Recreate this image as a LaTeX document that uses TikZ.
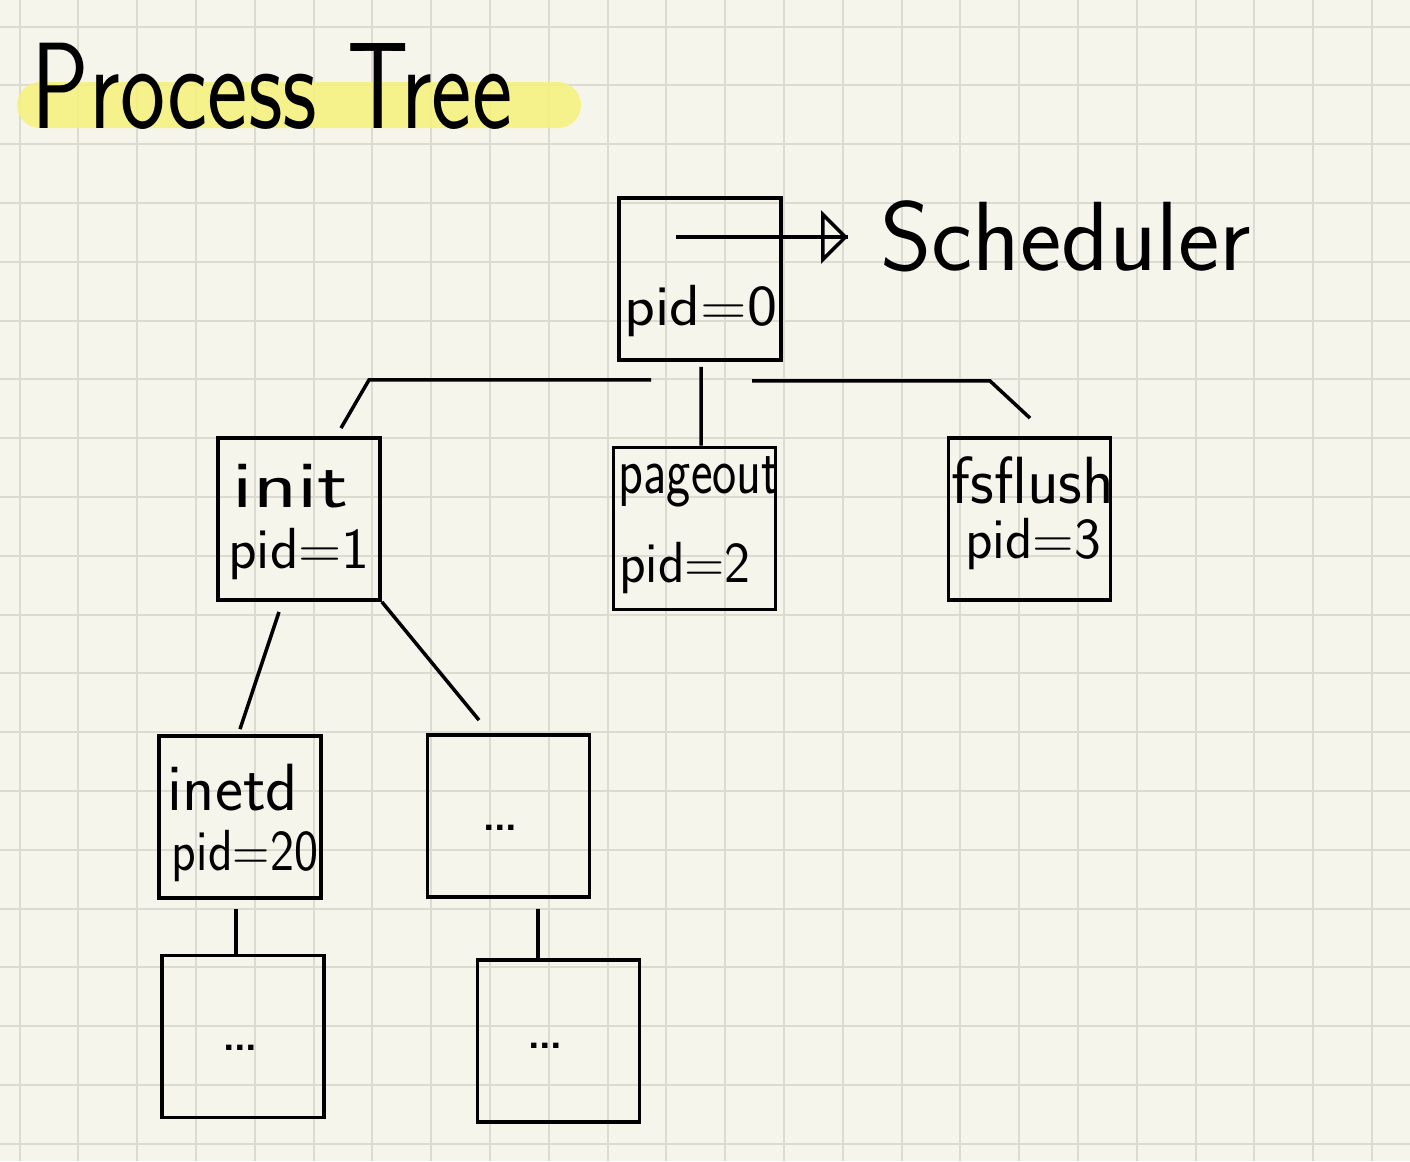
\documentclass[tikz,border=0pt]{standalone}
\usepackage{fontspec}
\usepackage{graphicx}
\usetikzlibrary{arrows.meta,calc}
\definecolor{paper}{HTML}{F6F5EC}
\definecolor{gridc}{HTML}{DCDBD1}
\definecolor{marker}{HTML}{F5F27C}
\newcommand{\nar}[2][0.7]{\scalebox{#1}[1]{#2}}
\tikzset{
  proc/.style={rectangle,draw=black,line width=2.2pt,minimum width=3.24cm,
    minimum height=3.24cm,inner sep=0pt},
  hw/.style={font=\sffamily\fontsize{33}{36}\selectfont,inner sep=0pt,anchor=base},
  hwl/.style={hw,font=\sffamily\fontsize{38}{42}\selectfont},
  conn/.style={draw=black,line width=2pt},
  gridln/.style={draw=gridc,line width=1.1pt},
}

\begin{document}
\begin{tikzpicture}[x=0.02cm,y=-0.02cm]
  \useasboundingbox (0,0) rectangle (1410,1161);
  \fill[paper] (0,0) rectangle (1410,1161);
  \foreach \i in {0,...,23} \draw[gridln] (19.6+58.8*\i,0) -- ++(0,1161);
  \foreach \j in {0,...,19} \draw[gridln] (0,26.6+58.8*\j) -- ++(1410,0);

  % title with highlighter
  \fill[marker,fill opacity=0.85,rounded corners=0.46cm] (17,82) rectangle (581,128);
  \node[hw,font=\sffamily\fontsize{70}{76}\selectfont] (title) at (272,128) {\nar[0.78]{Process Tree}};

  % processes
  \node[proc] (root) at (700,279) {};
  \node[proc] (init) at (299,519) {};
  \node[proc] (pgout) at (694.5,528.5) {};
  \node[proc] (fsfl) at (1029.5,519) {};
  \node[proc] (inetd) at (240,817) {};
  \node[proc] (more) at (508.5,816) {};
  \node[proc] (leafa) at (243,1036.5) {};
  \node[proc] (leafb) at (558.5,1041) {};

  \node[hw] (root-pid) at ($(root.center)+(1,46)$) {\nar[1.1]{pid=0}};
  \node[hwl] (init-name) at ($(init.center)+(-8,-12)$) {\nar[1.37]{init}};
  \node[hw] (init-pid) at ($(init.center)+(0,49)$) {\nar[1.02]{pid=1}};
  \node[hwl] (pgout-name) at ($(pgout.center)+(4.5,-35.5)$) {\nar[0.77]{pageout}};
  \node[hw] (pgout-pid) at ($(pgout.center)+(-9.5,53.5)$) {\nar[0.95]{pid=2}};
  \node[hwl] (fsfl-name) at ($(fsfl.center)+(3.5,-16)$) {\nar[0.98]{fsflush}};
  \node[hw] (fsfl-pid) at ($(fsfl.center)+(3.5,39)$) {\nar[0.98]{pid=3}};
  \node[hwl] (inetd-name) at ($(inetd.center)+(-7,-7)$) {\nar[1.0]{inetd}};
  \node[hw] (inetd-pid) at ($(inetd.center)+(5,53)$) {\nar[0.88]{pid=20}};
  \node[hwl] (more-dots) at ($(more.center)+(-8.5,14)$) {\dots};
  \node[hwl] (leafa-dots) at ($(leafa.center)+(-3,13.5)$) {\dots};
  \node[hwl] (leafb-dots) at ($(leafb.center)+(-13.5,7)$) {\dots};

  % scheduler
  \node[hw,font=\sffamily\fontsize{56}{60}\selectfont,anchor=base west] (sched) at (880,270) {Scheduler};
  \coordinate (sa) at ($(root.center)+(-24,-42)$);
  \coordinate (sw) at ($(sched.west)+(-32,0)$);
  \draw[conn] (sa) -- (sa -| sw);
  \draw[conn,-{Triangle[open,length=0.54cm,width=1.06cm]}] (sa) -- (sa -| sw);

  % tree edges
  \draw[conn] ($(root.south)+(-49,18)$) -- ++(-282,0) -- ($(init.north)+(42,-8)$);
  \draw[conn] ($(root.south)+(1,5)$) -- ($(pgout.north)+(6.5,0)$);
  \draw[conn] ($(root.south)+(52,19)$) -- ++(238,0) -- ($(fsfl.north)+(0.5,-18)$);
  \draw[conn] ($(init.south)+(-20,10)$) -- ($(inetd.north)+(0,-5)$);
  \draw[conn] (init.south east) -- ($(more.north)+(-29.5,-13)$);
  \draw[conn] ($(inetd.south)+(-4,9)$) -- ($(leafa.north)+(-7,0)$);
  \draw[conn] ($(more.south)+(29.5,10)$) -- ($(leafb.north)+(-20.5,3)$);
\end{tikzpicture}
\end{document}
